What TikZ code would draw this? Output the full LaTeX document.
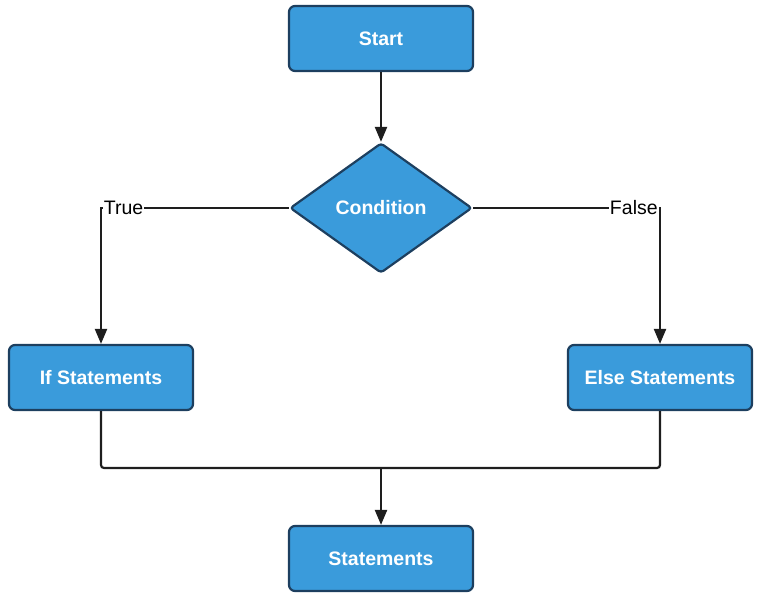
\documentclass[tikz,border=0pt]{standalone}
\usepackage{fontspec}
\setmainfont{Liberation Sans}
\usetikzlibrary{shapes.geometric,arrows.meta}
\definecolor{boxfill}{HTML}{3A9BDB}
\definecolor{boxedge}{HTML}{1D3F5F}
\definecolor{linecol}{HTML}{1E1E1E}
\tikzset{
  procbox/.style={draw=boxedge, line width=2.2pt, fill=boxfill, rounded corners=6pt,
    minimum width=184pt, minimum height=65pt, inner sep=0pt,
    text=white, font=\fontsize{19.5}{22}\selectfont\bfseries},
  decision/.style={diamond, draw=boxedge, line width=2.2pt, fill=boxfill, rounded corners=3pt,
    minimum width=182pt, minimum height=130pt, inner sep=0pt,
    text=white, font=\fontsize{19.5}{22}\selectfont\bfseries},
  flow/.style={draw=linecol, line width=2.2pt},
  tip/.style={-{Triangle[length=15pt,width=12pt]}},
  branch/.style={fill=white, inner sep=1pt, text=black, font=\fontsize{19.5}{22}\selectfont}
}
\begin{document}
\begin{tikzpicture}[x=1pt,y=-1pt]
  \useasboundingbox (0,0) rectangle (760,595);
  \node[procbox] (start) at (381,38.5) {Start};
  \node[decision, shape aspect=1.4] (cond) at (381,208) {Condition};
  \node[procbox] (ifs) at (101,377.5) {If Statements};
  \node[procbox] (elses) at (660,377.5) {Else Statements};
  \node[procbox] (stmts) at (381,558.5) {Statements};
  \coordinate (join) at (381,468);

  \draw[flow,tip] (start) -- (cond);
  \draw[flow,tip] (cond.west) -| node[branch,pos=0.44] {True} (ifs.north);
  \draw[flow,tip] (cond.east) -| node[branch,pos=0.43] {False} (elses.north);
  \draw[flow,rounded corners=3pt] (ifs.south) |- (join) -| (elses.south);
  \draw[flow,tip] (join) -- (stmts);
\end{tikzpicture}
\end{document}
